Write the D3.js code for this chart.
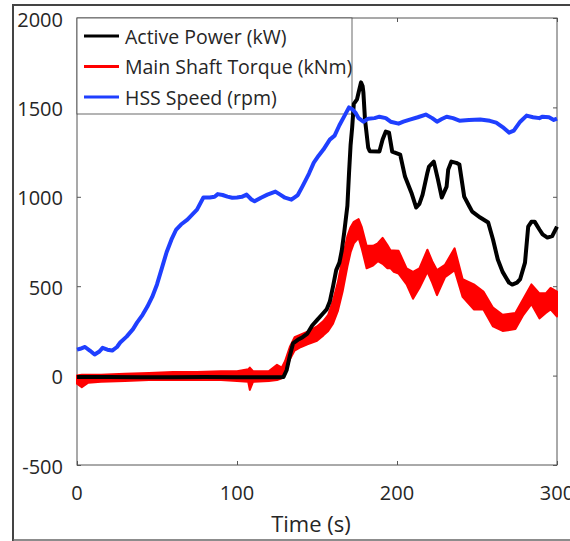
<!DOCTYPE html>
<html><head><meta charset="utf-8">
<script src="https://cdn.jsdelivr.net/npm/d3@7"></script>
<style>body{margin:0;background:#fff}svg{display:block}text{font-family:"Open Sans",sans-serif;fill:#262626}</style>
</head><body><svg id="c" width="570" height="541"></svg>
<script>
// ---- data ----
const seriesNames = ["Active Power (kW)", "Main Shaft Torque (kNm)", "HSS Speed (rpm)"];
const xTicks = [0, 100, 200, 300];
const yTicks = [-500, 0, 500, 1000, 1500, 2000];
const xLabel = "Time (s)";

const powerT = [0,20,40,60,80,100,120,126,129,131,133,135,138,141,144,147,150,154,156,158,160,162,164,165.5,167,169,170,171,172,173,175,176,177.5,178.5,179,180,182,183,189,191,193,195,197,202,205,209,212,214,216,219,220,223,225.6,228,231,232,234,237,239,242,245,247,252,257,260,263,266,270,272,275,277,280,282,284,286,289,291,294,297,300];
const powerV = [-8,-8,-9,-9,-8,-9,-9,-9,-8,30,110,180,200,215,235,280,310,350,370,414,498,590,632,700,800,950,1130,1290,1390,1520,1545,1583,1640,1620,1583,1432,1275,1255,1253,1320,1365,1359,1253,1236,1113,1023,940,960,1012,1135,1169,1197,1096,996,1057,1152,1197,1190,1180,1001,950,917,884,856,761,649,580,520,509,520,540,632,833,860,861,817,790,772,780,833];

const torqueT  = [0,3,7,15,30,45,60,75,90,100,107,108,110,120,125,128,130,133,136,140,144,150,154,157,160,163,166,169,171,173,176,178,181,185,188,191,194,196,198,201,206,210,214,219,222,225,230,236,241,248,254,260,266,274,279,284,289,293,296,300];
const torqueLo = [-45,-65,-40,-35,-30,-25,-25,-25,-25,-30,-35,-80,-35,-30,-25,-15,10,90,140,160,175,195,225,250,290,360,470,610,690,740,770,710,600,615,640,625,600,600,580,570,510,430,490,580,520,450,550,590,440,370,370,275,250,260,340,400,320,350,370,330];
const torqueHi = [0,5,5,5,10,15,20,20,25,25,35,45,25,25,60,45,80,160,215,230,245,275,305,340,420,520,660,780,830,860,875,830,726,726,740,770,730,700,700,698,600,580,600,704,640,590,620,712,540,510,470,380,340,350,430,510,460,460,490,470];

const speedT = [0,2,5,8,11,14,16,19,22,25,27,31,35,37.5,41,44,47,50,53,56,59,62,65,69,72,75,79,83,86,88,91,94,97,100,103,106,109,111,115,119,124,127,130,134,138,141,145,148,151,154,158,161,164,167,170,172,174,176,179,182,186,189,193,196,201,204,208,213,218,222,225,228,231,235,239,245,252,258,262,266,270,273,277,281,285,289,291,295,298,300];
const speedV = [145,150,160,140,118,135,155,145,140,160,185,218,260,296,340,386,440,510,600,690,760,817,845,872,900,928,996,996,1000,1015,1010,1001,995,996,1000,1012,985,975,995,1012,1029,1012,995,984,1010,1060,1130,1191,1230,1264,1320,1342,1400,1450,1500,1490,1471,1440,1420,1437,1440,1448,1440,1420,1409,1420,1432,1445,1460,1440,1420,1435,1448,1440,1426,1430,1432,1425,1415,1390,1359,1370,1420,1454,1445,1440,1448,1445,1430,1437];

const colors = ["#000000", "#ff0000", "#1f3fff"];

// ---- chart ----
const svg = d3.select("#c");
const L = 77, R = 557, T = 18, B = 465;
const x = d3.scaleLinear().domain([0, 300]).range([L, R]);
const y = d3.scaleLinear().domain([-500, 2000]).range([B, T]);

// outer figure frame
svg.append("path").attr("d", `M13,541 L13,5 L570,5`).attr("fill","none").attr("stroke","#444").attr("stroke-width",2);
svg.append("line").attr("x1",13).attr("x2",570).attr("y1",540).attr("y2",540).attr("stroke","#666").attr("stroke-width",1.5);

// axes box
svg.append("rect").attr("x",L).attr("y",T).attr("width",R-L).attr("height",B-T).attr("fill","none").attr("stroke","#555").attr("stroke-width",1);

// ticks (inward) via d3 axes
const tk = 4;
const styleAxis = g=>{g.select(".domain").remove();g.selectAll("line").attr("stroke","#555");};
svg.append("g").attr("transform",`translate(0,${B})`).call(d3.axisBottom(x).tickValues(xTicks).tickSize(-tk).tickFormat("")).call(styleAxis);
svg.append("g").attr("transform",`translate(0,${T})`).call(d3.axisTop(x).tickValues(xTicks).tickSize(-tk).tickFormat("")).call(styleAxis);
svg.append("g").attr("transform",`translate(${L},0)`).call(d3.axisLeft(y).tickValues(yTicks).tickSize(-tk).tickFormat("")).call(styleAxis);
svg.append("g").attr("transform",`translate(${R},0)`).call(d3.axisRight(y).tickValues(yTicks).tickSize(-tk).tickFormat("")).call(styleAxis);

// tick labels
svg.append("g").selectAll("text").data(yTicks).join("text")
  .attr("x",63).attr("y",d=>y(d)+1).attr("text-anchor","end").attr("dominant-baseline","central")
  .attr("font-size",20).text(d=>d);
svg.append("g").selectAll("text").data(xTicks).join("text")
  .attr("x",d=>x(d)).attr("y",492).attr("text-anchor","middle").attr("dominant-baseline","central")
  .attr("font-size",20).text(d=>d);
svg.append("text").attr("x",(L+R)/2 - 6).attr("y",523).attr("text-anchor","middle").attr("dominant-baseline","central")
  .attr("font-size",22).text(xLabel);

// legend box
const lg = svg.append("g");
lg.append("rect").attr("x",L).attr("y",T).attr("width",275).attr("height",96).attr("fill","#fff").attr("stroke","#444").attr("stroke-width",0.8);
seriesNames.forEach((n,i)=>{
  const yy = 36 + i*30.5;
  lg.append("line").attr("x1",84).attr("x2",119).attr("y1",yy).attr("y2",yy).attr("stroke",colors[i]).attr("stroke-width",3);
  lg.append("text").attr("x",125).attr("y",yy).attr("dominant-baseline","central").attr("font-size",19.5).text(n);
});

// series
const torque = torqueT.map((t,i)=>({t, lo:torqueLo[i], hi:torqueHi[i]}));
svg.append("path").datum(torque)
  .attr("d", d3.area().x(d=>x(d.t)).y0(d=>y(d.lo)).y1(d=>y(d.hi)))
  .attr("fill", colors[1]).attr("stroke", colors[1]).attr("stroke-width",2).attr("stroke-linejoin","round");

const line = d3.line().x(d=>x(d[0])).y(d=>y(d[1]));
svg.append("path").datum(powerT.map((t,i)=>[t,powerV[i]]))
  .attr("d", line).attr("fill","none").attr("stroke",colors[0]).attr("stroke-width",4).attr("stroke-linejoin","round");
svg.append("path").datum(speedT.map((t,i)=>[t,speedV[i]]))
  .attr("d", line).attr("fill","none").attr("stroke",colors[2]).attr("stroke-width",4).attr("stroke-linejoin","round");
</script></body></html>
